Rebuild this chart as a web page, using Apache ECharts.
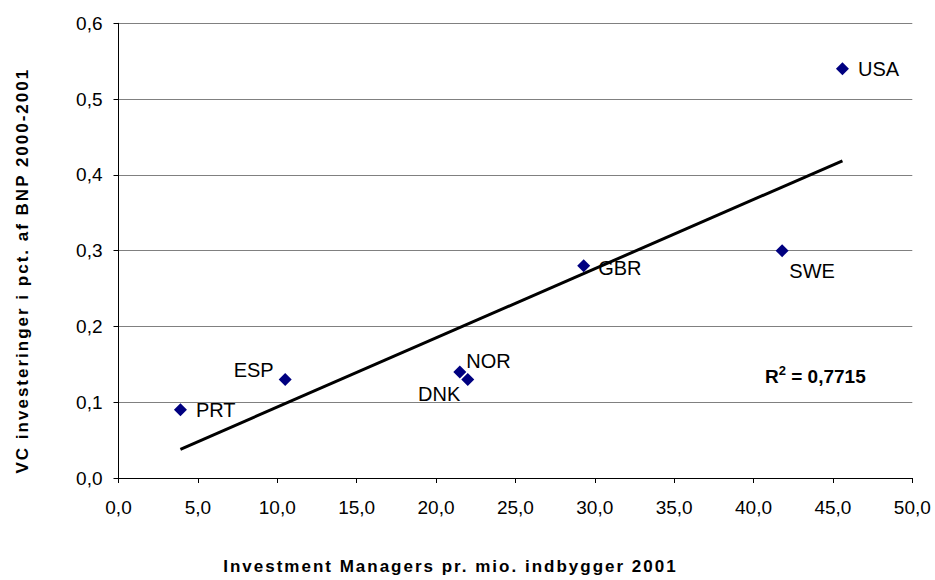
<!DOCTYPE html>
<html>
<head>
<meta charset="utf-8">
<script src="https://cdn.jsdelivr.net/npm/echarts@6/dist/echarts.min.js"></script>
<style>
  html, body { margin: 0; padding: 0; background: #ffffff; }
  #chart { width: 935px; height: 580px; }
</style>
</head>
<body>
<div id="chart"></div>
<script>
// Countries, investment managers per million inhabitants (2001)
// and VC investments as percent of GDP (2000-2001)
const countries = ['PRT', 'ESP', 'NOR', 'DNK', 'GBR', 'SWE', 'USA'];
const managers = [3.9, 10.5, 21.5, 22.0, 29.3, 41.8, 45.6];
const vcShare = [0.09, 0.13, 0.14, 0.13, 0.28, 0.30, 0.54];
const xTicks = [0, 5, 10, 15, 20, 25, 30, 35, 40, 45, 50];
const yTicks = [0, 0.1, 0.2, 0.3, 0.4, 0.5, 0.6];
const rSquaredText = '0,7715';
const xTitle = 'Investment Managers pr. mio. indbygger 2001';
const yTitle = 'VC investeringer i pct. af BNP 2000-2001';

const FONT = '"Liberation Sans", Arial, sans-serif';

// Label placement per country
const labelPlacement = {
  PRT: { position: 'right', distance: 9, offset: [0, 0] },
  ESP: { position: 'left', distance: 5, offset: [0, -9] },
  NOR: { position: 'right', distance: 0, offset: [0, -11] },
  DNK: { position: 'left', distance: 1, offset: [0, 15] },
  GBR: { position: 'right', distance: 8, offset: [0, 2] },
  SWE: { position: 'bottom', distance: 4, offset: [30, 0] },
  USA: { position: 'right', distance: 9, offset: [0, 0] }
};

// Least-squares trend line across the data range
function linearFit(xs, ys) {
  const n = xs.length;
  const mx = xs.reduce((a, b) => a + b, 0) / n;
  const my = ys.reduce((a, b) => a + b, 0) / n;
  let sxy = 0, sxx = 0;
  for (let i = 0; i < n; i++) {
    sxy += (xs[i] - mx) * (ys[i] - my);
    sxx += (xs[i] - mx) * (xs[i] - mx);
  }
  const slope = sxy / sxx;
  return { slope, intercept: my - slope * mx };
}
const fit = linearFit(managers, vcShare);
const xMin = Math.min(...managers);
const xMax = Math.max(...managers);
const trendData = [
  [xMin, fit.intercept + fit.slope * xMin],
  [xMax, fit.intercept + fit.slope * xMax]
];

const pointData = countries.map((c, i) => ({
  value: [managers[i], vcShare[i]],
  name: c,
  label: Object.assign({ show: true, formatter: c }, labelPlacement[c])
}));

const fmt = v => v.toFixed(1).replace('.', ',');

const chart = echarts.init(document.getElementById('chart'), null, { renderer: 'svg' });
chart.setOption({
  animation: false,
  backgroundColor: '#ffffff',
  textStyle: { fontFamily: FONT },
  grid: { left: 118.5, right: 22.7, top: 23.3, bottom: 99.7, containLabel: false },
  xAxis: {
    type: 'value',
    min: xTicks[0],
    max: xTicks[xTicks.length - 1],
    interval: xTicks[1] - xTicks[0],
    name: xTitle,
    nameLocation: 'middle',
    nameGap: 80,
    nameTextStyle: {
      fontFamily: FONT, fontSize: 17, fontWeight: 'bold', color: '#000',
      padding: [0, 130, 0, 0]
    },
    axisLine: { show: true, onZero: false, lineStyle: { color: '#000', width: 1 } },
    axisTick: { show: true, inside: false, length: 5, lineStyle: { color: '#000' } },
    axisLabel: { fontFamily: FONT, fontSize: 19, color: '#000', margin: 20, formatter: fmt },
    splitLine: { show: false }
  },
  yAxis: {
    type: 'value',
    min: yTicks[0],
    max: yTicks[yTicks.length - 1],
    interval: 0.1,
    name: yTitle,
    nameLocation: 'middle',
    nameGap: 88,
    nameTextStyle: {
      fontFamily: FONT, fontSize: 17, fontWeight: 'bold', color: '#000',
      padding: [0, 40, 0, 0]
    },
    axisLine: { show: true, onZero: false, lineStyle: { color: '#000', width: 1 } },
    axisTick: { show: true, inside: false, length: 5, lineStyle: { color: '#000' } },
    axisLabel: { fontFamily: FONT, fontSize: 19, color: '#000', margin: 16, formatter: fmt },
    splitLine: { show: true, lineStyle: { color: '#808080', width: 1 } }
  },
  series: [
    {
      type: 'line',
      data: trendData,
      symbol: 'none',
      silent: true,
      lineStyle: { color: '#000', width: 3 },
      z: 2
    },
    {
      type: 'scatter',
      data: pointData,
      symbol: 'diamond',
      symbolSize: 13,
      itemStyle: { color: '#000080', opacity: 1 },
      label: { fontFamily: FONT, fontSize: 20, color: '#000' },
      z: 3
    }
  ],
  graphic: [
    {
      type: 'text',
      x: 765,
      y: 375,
      style: {
        text: '{r|R}{sup|2}{r| = ' + rSquaredText + '}',
        verticalAlign: 'middle',
        rich: {
          r: { fontFamily: FONT, fontSize: 19, fontWeight: 'bold', fill: '#000', verticalAlign: 'bottom' },
          sup: { fontFamily: FONT, fontSize: 13, fontWeight: 'bold', fill: '#000', verticalAlign: 'top', padding: [0, 0, 9, 0] }
        }
      }
    }
  ]
});

// Axis titles are set with wider letter spacing
const titleSpacing = { [xTitle]: 2, [yTitle]: 2 };
function spaceTitles() {
  document.querySelectorAll('#chart svg text').forEach(t => {
    const s = titleSpacing[t.textContent];
    if (s != null) t.setAttribute('letter-spacing', s);
  });
}
spaceTitles();
chart.on('finished', spaceTitles);
</script>
</body>
</html>
